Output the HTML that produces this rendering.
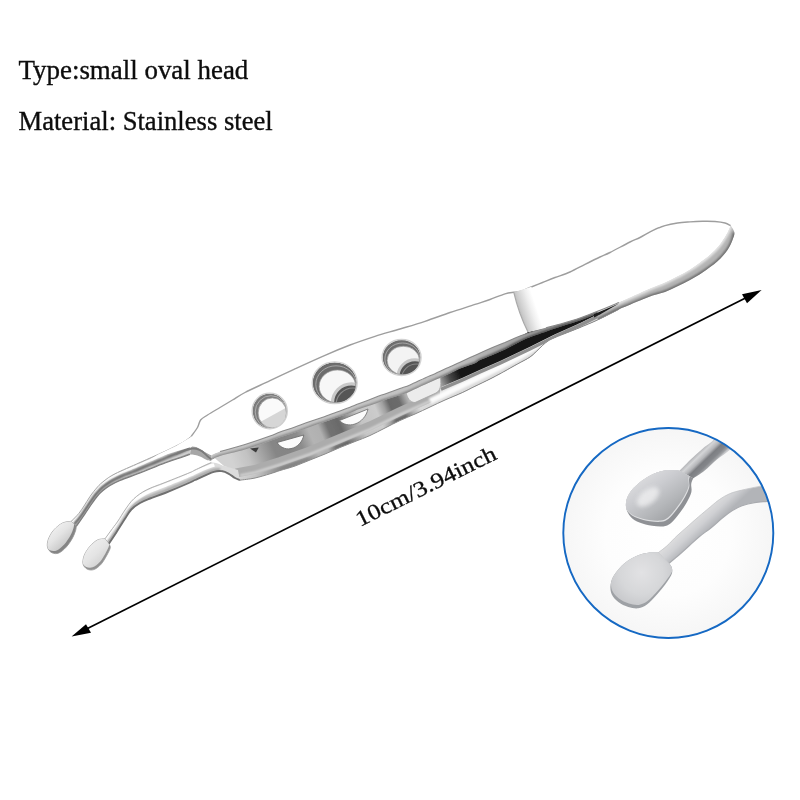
<!DOCTYPE html>
<html>
<head>
<meta charset="utf-8">
<title>Tweezers small oval head</title>
<style>
html,body{margin:0;padding:0;background:#fff;}
body{width:800px;height:800px;overflow:hidden;position:relative;font-family:"Liberation Serif",serif;}
svg{position:absolute;left:0;top:0;display:block;}
</style>
</head>
<body>
<svg width="800" height="800" viewBox="0 0 800 800">
<defs>
<linearGradient id="gLowerFace" gradientUnits="userSpaceOnUse" x1="240" y1="480" x2="620" y2="319">
  <stop offset="0" stop-color="#d2d2d2"/>
  <stop offset="0.04" stop-color="#c2c2c2"/>
  <stop offset="0.075" stop-color="#a2a2a2"/>
  <stop offset="0.105" stop-color="#868686"/>
  <stop offset="0.14" stop-color="#858585"/>
  <stop offset="0.17" stop-color="#8c8c8c"/>
  <stop offset="0.20" stop-color="#b4b4b4"/>
  <stop offset="0.225" stop-color="#b0b0b0"/>
  <stop offset="0.245" stop-color="#727272"/>
  <stop offset="0.275" stop-color="#6a6a6a"/>
  <stop offset="0.30" stop-color="#9a9a9a"/>
  <stop offset="0.325" stop-color="#c4c4c4"/>
  <stop offset="0.37" stop-color="#cccccc"/>
  <stop offset="0.39" stop-color="#a0a0a0"/>
  <stop offset="0.405" stop-color="#686868"/>
  <stop offset="0.43" stop-color="#6c6c6c"/>
  <stop offset="0.45" stop-color="#b0b0b0"/>
  <stop offset="0.47" stop-color="#dadada"/>
  <stop offset="0.53" stop-color="#d4d4d4"/>
  <stop offset="0.545" stop-color="#909090"/>
  <stop offset="0.565" stop-color="#2d2d2d"/>
  <stop offset="0.7" stop-color="#161616"/>
  <stop offset="1" stop-color="#1c1c1c"/>
</linearGradient>
<linearGradient id="gWedge" gradientUnits="userSpaceOnUse" x1="440" y1="380" x2="460" y2="371.5">
  <stop offset="0" stop-color="#9a9a9a"/>
  <stop offset="0.45" stop-color="#4a4a4a"/>
  <stop offset="1" stop-color="#131313"/>
</linearGradient>
<linearGradient id="gShoulder" gradientUnits="userSpaceOnUse" x1="518" y1="312" x2="536" y2="306">
  <stop offset="0" stop-color="#b9b9b9"/>
  <stop offset="0.3" stop-color="#d2d2d2"/>
  <stop offset="0.7" stop-color="#efefef"/>
  <stop offset="1" stop-color="#ffffff"/>
</linearGradient>
<linearGradient id="gPadBand" gradientUnits="userSpaceOnUse" x1="690" y1="269" x2="695" y2="278">
  <stop offset="0" stop-color="#e6e6e6"/>
  <stop offset="0.5" stop-color="#c2c2c2"/>
  <stop offset="1" stop-color="#8e8e8e"/>
</linearGradient>
<linearGradient id="gBandLong" gradientUnits="userSpaceOnUse" x1="211" y1="458" x2="640" y2="294">
  <stop offset="0" stop-color="#c6c6c6"/>
  <stop offset="0.35" stop-color="#c4c4c4"/>
  <stop offset="0.55" stop-color="#c2c2c2"/>
  <stop offset="0.7" stop-color="#a8a8a8"/>
  <stop offset="0.82" stop-color="#8c8c8c"/>
  <stop offset="0.93" stop-color="#8c8c8c"/>
  <stop offset="1" stop-color="#b8b8b8"/>
</linearGradient>
<linearGradient id="gBandEdge" gradientUnits="userSpaceOnUse" x1="211" y1="458" x2="640" y2="294">
  <stop offset="0" stop-color="#8a8a8a"/>
  <stop offset="0.5" stop-color="#858585"/>
  <stop offset="0.58" stop-color="#6a6a6a"/>
  <stop offset="0.7" stop-color="#4a4a4a"/>
  <stop offset="0.9" stop-color="#555555"/>
  <stop offset="1" stop-color="#9a9a9a"/>
</linearGradient>
<linearGradient id="gArmBand" gradientUnits="userSpaceOnUse" x1="400" y1="386.5" x2="402.5" y2="393">
  <stop offset="0" stop-color="#e2e2e2"/>
  <stop offset="0.5" stop-color="#bdbdbd"/>
  <stop offset="1" stop-color="#8d8d8d"/>
</linearGradient>
<linearGradient id="gRodU" gradientUnits="userSpaceOnUse" x1="138" y1="462" x2="142.2" y2="472.5">
  <stop offset="0" stop-color="#bdbdbd"/>
  <stop offset="0.18" stop-color="#fafafa"/>
  <stop offset="0.38" stop-color="#e2e2e2"/>
  <stop offset="0.55" stop-color="#8d8d8d"/>
  <stop offset="0.68" stop-color="#6f6f6f"/>
  <stop offset="0.82" stop-color="#cfcfcf"/>
  <stop offset="1" stop-color="#909090"/>
</linearGradient>
<linearGradient id="gRodL" gradientUnits="userSpaceOnUse" x1="163" y1="482.5" x2="167.5" y2="493.5">
  <stop offset="0" stop-color="#cdcdcd"/>
  <stop offset="0.22" stop-color="#fbfbfb"/>
  <stop offset="0.5" stop-color="#e6e6e6"/>
  <stop offset="0.72" stop-color="#adadad"/>
  <stop offset="1" stop-color="#8b8b8b"/>
</linearGradient>
<linearGradient id="gHeadU" gradientUnits="userSpaceOnUse" x1="52" y1="528" x2="70" y2="548">
  <stop offset="0" stop-color="#f4f4f4"/>
  <stop offset="0.5" stop-color="#e4e4e4"/>
  <stop offset="1" stop-color="#c4c4c4"/>
</linearGradient>
<linearGradient id="gHeadL" gradientUnits="userSpaceOnUse" x1="88" y1="546" x2="106" y2="566">
  <stop offset="0" stop-color="#efefef"/>
  <stop offset="0.5" stop-color="#e4e4e4"/>
  <stop offset="1" stop-color="#cfcfcf"/>
</linearGradient>
<filter id="soft" x="-2%" y="-2%" width="104%" height="104%"><feGaussianBlur stdDeviation="0.45"/></filter>
<filter id="blur05" x="-10%" y="-10%" width="120%" height="120%"><feGaussianBlur stdDeviation="0.5"/></filter>
<filter id="blur1" x="-10%" y="-10%" width="120%" height="120%"><feGaussianBlur stdDeviation="1"/></filter>
<filter id="blur2" x="-20%" y="-20%" width="140%" height="140%"><feGaussianBlur stdDeviation="2"/></filter>
<clipPath id="clipLower"><path d="M240.0,480.2 C242.5,479.8 250.0,479.1 255.0,478.0 C260.0,476.9 265.8,475.1 270.0,473.8 C274.2,472.6 275.8,471.8 280.0,470.5 C284.2,469.2 290.0,467.8 295.0,466.0 C300.0,464.2 305.0,462.0 310.0,460.0 C315.0,458.0 320.0,456.1 325.0,454.0 C330.0,451.9 335.0,449.6 340.0,447.5 C345.0,445.4 350.0,443.5 355.0,441.5 C360.0,439.5 365.0,437.8 370.0,435.5 C375.0,433.2 380.0,430.5 385.0,428.0 C390.0,425.5 395.0,422.8 400.0,420.5 C405.0,418.2 410.0,416.2 415.0,414.0 C420.0,411.8 425.0,409.3 430.0,407.0 C435.0,404.7 439.6,402.4 445.0,400.0 C450.4,397.6 457.5,394.8 462.5,392.5 C467.5,390.2 470.4,388.6 475.0,386.3 C479.6,384.1 485.8,381.1 490.0,379.0 C494.2,376.9 497.5,375.1 500.0,373.8 C502.5,372.5 502.1,372.6 505.0,371.0 C507.9,369.4 513.3,366.3 517.5,364.0 C521.7,361.7 526.9,359.1 530.0,357.0 C533.1,354.9 534.2,353.4 536.3,351.5 C538.4,349.6 540.5,347.2 542.5,345.5 C544.5,343.8 545.9,342.3 548.0,341.0 C550.1,339.7 551.8,338.9 555.0,337.5 C558.2,336.1 563.3,334.2 567.5,332.5 C571.7,330.8 575.0,329.6 580.0,327.5 C585.0,325.4 591.0,323.0 597.5,320.0 C604.0,317.0 615.2,311.2 618.8,309.4 L618.8,303.5 L597.5,311.3 L580.0,318.0 L561.3,323.8 L542.5,328.8 L528.0,332.0 L517.5,337.0 L505.0,342.4 L492.5,347.5 L477.0,354.4 L460.0,362.3 L450.0,366.8 L435.0,373.7 L425.0,377.9 L410.0,384.9 L400.0,388.5 L385.0,393.9 L375.0,397.5 L360.0,403.3 L350.0,407.3 L340.0,411.0 L325.0,416.5 L310.0,421.5 L295.0,427.0 L280.0,432.0 L270.0,436.0 L245.0,444.5 L220.0,451.5 L211.3,455.2 L224.0,466.0 L238.0,470.0 Z"/></clipPath>
<clipPath id="clipFace"><path d="M191.3,436.3 C192.3,434.8 195.9,430.2 197.5,427.5 C199.1,424.8 198.9,422.1 200.6,420.0 C202.3,417.9 204.3,417.1 207.5,415.0 C210.7,412.9 215.8,410.0 220.0,407.5 C224.2,405.0 228.3,402.5 232.5,400.0 C236.7,397.5 238.8,395.7 245.0,392.5 C251.2,389.3 261.7,384.6 270.0,380.6 C278.3,376.7 285.8,373.0 295.0,368.8 C304.2,364.6 315.8,359.3 325.0,355.3 C334.2,351.3 341.7,348.2 350.0,345.0 C358.3,341.8 366.7,339.0 375.0,336.3 C383.3,333.6 391.7,331.5 400.0,329.0 C408.3,326.5 416.7,324.1 425.0,321.3 C433.3,318.6 441.7,315.3 450.0,312.5 C458.3,309.7 468.3,306.6 475.0,304.4 C481.7,302.2 485.0,301.3 490.0,299.5 C495.0,297.7 501.0,295.0 505.0,293.8 C509.0,292.6 512.3,292.6 513.8,292.3 C515.0,292.1 518.6,292.0 521.3,291.2 C524.0,290.4 526.5,288.9 530.0,287.5 C533.5,286.1 538.3,284.2 542.5,282.5 C546.7,280.8 550.4,279.2 555.0,277.5 C559.6,275.8 565.0,274.2 570.0,272.0 C575.0,269.8 580.0,266.9 585.0,264.4 C590.0,261.9 595.8,259.0 600.0,257.0 C604.2,255.0 605.0,255.0 610.0,252.5 C615.0,250.0 625.0,244.5 630.0,242.0 C635.0,239.5 636.2,239.4 640.0,237.5 C643.8,235.6 648.3,232.6 652.5,230.6 C656.7,228.6 660.8,226.9 665.0,225.6 C669.2,224.3 673.3,223.6 677.5,223.0 C681.7,222.4 685.8,222.2 690.0,221.9 C694.2,221.6 698.3,221.4 702.5,221.3 C706.7,221.2 711.2,221.2 715.0,221.5 C718.8,221.8 722.4,222.3 725.0,223.0 C727.6,223.7 729.7,225.2 730.6,225.6 C730.1,226.8 729.0,229.7 727.5,232.5 C726.0,235.3 723.4,239.6 721.3,242.5 C719.2,245.4 717.7,247.3 715.0,250.0 C712.3,252.7 709.2,255.6 705.0,258.8 C700.8,262.0 694.6,266.5 690.0,269.4 C685.4,272.3 681.7,274.1 677.5,276.3 C673.3,278.5 669.2,280.6 665.0,282.5 C660.8,284.4 656.7,285.8 652.5,287.5 C648.3,289.2 645.6,290.5 640.0,293.0 C634.4,295.5 625.9,299.4 618.8,302.5 C611.7,305.6 604.0,308.7 597.5,311.3 C591.0,313.9 586.0,315.9 580.0,318.0 C574.0,320.1 567.5,322.0 561.3,323.8 C555.0,325.6 548.0,327.4 542.5,328.8 C537.0,330.2 530.4,331.5 528.0,332.0 C526.2,333.9 521.3,335.5 517.5,337.0 C513.7,338.6 509.2,340.6 505.0,342.4 C500.8,344.1 497.2,345.5 492.5,347.5 C487.8,349.5 482.4,351.9 477.0,354.4 C471.6,356.9 464.5,360.2 460.0,362.3 C455.5,364.4 454.2,364.9 450.0,366.8 C445.8,368.6 439.2,371.8 435.0,373.7 C430.8,375.5 429.2,376.1 425.0,377.9 C420.8,379.8 414.2,383.1 410.0,384.9 C405.8,386.6 404.2,387.0 400.0,388.5 C395.8,390.0 389.2,392.4 385.0,393.9 C380.8,395.4 379.2,395.9 375.0,397.5 C370.8,399.1 364.2,401.7 360.0,403.3 C355.8,404.9 353.3,406.0 350.0,407.3 C346.7,408.6 344.2,409.5 340.0,411.0 C335.8,412.5 330.0,414.8 325.0,416.5 C320.0,418.2 315.0,419.8 310.0,421.5 C305.0,423.2 300.0,425.2 295.0,427.0 C290.0,428.8 284.2,430.5 280.0,432.0 C275.8,433.5 275.8,433.9 270.0,436.0 C264.2,438.1 253.3,441.9 245.0,444.5 C236.7,447.1 225.6,449.7 220.0,451.5 C214.4,453.3 212.8,454.6 211.3,455.2 C210.2,454.7 207.2,453.3 205.0,452.0 C202.8,450.7 200.3,448.4 198.0,447.5 C195.7,446.6 192.4,446.7 191.3,446.5 Z"/></clipPath>
</defs>

<defs>
<radialGradient id="gInsetBg" gradientUnits="userSpaceOnUse" cx="668" cy="533" r="105">
  <stop offset="0" stop-color="#ffffff"/>
  <stop offset="0.6" stop-color="#fdfdfd"/>
  <stop offset="1" stop-color="#f6f6f6"/>
</radialGradient>
<linearGradient id="gInRod1" gradientUnits="userSpaceOnUse" x1="698" y1="452.5" x2="711" y2="466">
  <stop offset="0" stop-color="#b4b5b8"/>
  <stop offset="0.18" stop-color="#d4d5d7"/>
  <stop offset="0.40" stop-color="#b4b5b8"/>
  <stop offset="0.56" stop-color="#7c7e82"/>
  <stop offset="0.78" stop-color="#84868a"/>
  <stop offset="0.92" stop-color="#a0a2a5"/>
  <stop offset="1" stop-color="#c8c9cc"/>
</linearGradient>
<linearGradient id="gInHead1" gradientUnits="userSpaceOnUse" x1="640" y1="478" x2="672" y2="524">
  <stop offset="0" stop-color="#e2e2e4"/>
  <stop offset="0.4" stop-color="#cbccd0"/>
  <stop offset="0.75" stop-color="#b4b6b9"/>
  <stop offset="1" stop-color="#a2a4a7"/>
</linearGradient>
<linearGradient id="gInRod2" gradientUnits="userSpaceOnUse" x1="692" y1="521" x2="704" y2="534">
  <stop offset="0" stop-color="#dededf"/>
  <stop offset="0.5" stop-color="#cfd0d3"/>
  <stop offset="1" stop-color="#b2b4b8"/>
</linearGradient>
<radialGradient id="gInHead2" gradientUnits="userSpaceOnUse" cx="641" cy="576" r="36">
  <stop offset="0" stop-color="#e2e2e4"/>
  <stop offset="0.6" stop-color="#d6d7d9"/>
  <stop offset="1" stop-color="#c6c7ca"/>
</radialGradient>
</defs>

<rect x="0" y="0" width="800" height="800" fill="#ffffff"/>
<g font-family="Liberation Serif, serif" fill="#0d0d0d" stroke="#0d0d0d" stroke-width="0.35" style="filter:grayscale(1)">
<text id="t1" x="18.5" y="79.3" font-size="27" textLength="229.8" lengthAdjust="spacingAndGlyphs">Type:small oval head</text>
<text id="t2" x="18.5" y="130" font-size="27" textLength="254.2" lengthAdjust="spacingAndGlyphs">Material: Stainless steel</text>
</g>

<g id="arrow">
<line x1="82" y1="631.2" x2="752" y2="294.8" stroke="#000" stroke-width="1.7"/>
<polygon points="761.6,290 742,294.2 747,303.2" fill="#000"/>
<polygon points="71.6,636.4 86,624.2 91,632.8" fill="#000"/>
<g style="filter:grayscale(1)"><text id="t3" transform="translate(360,527) rotate(-26.4)" font-family="Liberation Serif, serif" font-size="22" fill="#0d0d0d" stroke="#0d0d0d" stroke-width="0.3" textLength="154" lengthAdjust="spacingAndGlyphs">10cm/3.94inch</text></g>
</g>

<g id="tweezers" filter="url(#soft)">
<!-- ===== LOWER ARM (behind) ===== -->
<g id="lowerArm">
<clipPath id="clipRod2"><path d="M224.0,466.0 L224.0,466.0 C221.9,465.4 216.1,461.8 211.3,462.5 C206.5,463.2 198.6,468.3 195.0,470.0 C191.4,471.7 195.0,470.4 190.0,472.5 C185.0,474.6 172.3,479.6 165.0,482.5 C157.7,485.4 151.5,487.3 146.3,490.0 C141.1,492.7 137.4,495.5 133.8,498.8 C130.2,502.1 127.6,506.3 125.0,510.0 C122.4,513.7 120.1,517.9 118.0,521.0 C115.9,524.1 114.7,525.5 112.5,528.5 C110.3,531.5 106.2,537.1 105.0,538.8 L105.0,538.8 C105.6,539.6 108.2,543.0 108.8,543.8 L108.8,543.8 C110.0,541.9 113.6,536.7 116.3,532.5 C119.0,528.3 122.5,522.6 125.0,518.8 C127.5,515.0 128.8,512.1 131.3,509.5 C133.8,506.9 136.9,504.8 140.0,503.0 C143.1,501.2 145.8,500.2 150.0,498.5 C154.2,496.8 158.3,495.7 165.0,493.0 C171.7,490.3 185.0,484.7 190.0,482.5 C195.0,480.3 191.0,481.8 195.0,480.0 C199.0,478.2 209.2,473.3 213.8,471.9 C218.4,470.4 220.0,471.0 222.5,471.3 C225.0,471.6 226.7,472.7 228.8,473.8 C230.9,474.9 233.1,476.9 235.0,478.0 C236.9,479.1 239.2,479.8 240.0,480.2 L240.0,480.2 C239.7,478.5 240.7,472.4 238.0,470.0 C235.3,467.6 226.3,466.7 224.0,466.0 Z"/></clipPath>
<path d="M224.0,466.0 L224.0,466.0 C221.9,465.4 216.1,461.8 211.3,462.5 C206.5,463.2 198.6,468.3 195.0,470.0 C191.4,471.7 195.0,470.4 190.0,472.5 C185.0,474.6 172.3,479.6 165.0,482.5 C157.7,485.4 151.5,487.3 146.3,490.0 C141.1,492.7 137.4,495.5 133.8,498.8 C130.2,502.1 127.6,506.3 125.0,510.0 C122.4,513.7 120.1,517.9 118.0,521.0 C115.9,524.1 114.7,525.5 112.5,528.5 C110.3,531.5 106.2,537.1 105.0,538.8 L105.0,538.8 C105.6,539.6 108.2,543.0 108.8,543.8 L108.8,543.8 C110.0,541.9 113.6,536.7 116.3,532.5 C119.0,528.3 122.5,522.6 125.0,518.8 C127.5,515.0 128.8,512.1 131.3,509.5 C133.8,506.9 136.9,504.8 140.0,503.0 C143.1,501.2 145.8,500.2 150.0,498.5 C154.2,496.8 158.3,495.7 165.0,493.0 C171.7,490.3 185.0,484.7 190.0,482.5 C195.0,480.3 191.0,481.8 195.0,480.0 C199.0,478.2 209.2,473.3 213.8,471.9 C218.4,470.4 220.0,471.0 222.5,471.3 C225.0,471.6 226.7,472.7 228.8,473.8 C230.9,474.9 233.1,476.9 235.0,478.0 C236.9,479.1 239.2,479.8 240.0,480.2 L240.0,480.2 C239.7,478.5 240.7,472.4 238.0,470.0 C235.3,467.6 226.3,466.7 224.0,466.0 Z" fill="#dcdcdc"/>
<g clip-path="url(#clipRod2)">
<path d="M214.3,464.9 C213.4,465.2 210.6,466.0 208.8,466.7 C206.9,467.3 205.1,468.2 203.3,468.9 C201.5,469.7 199.7,470.6 197.9,471.4 C196.1,472.2 194.3,473.2 192.5,474.0 C190.7,474.8 188.9,475.5 187.0,476.3 C185.2,477.1 183.4,477.8 181.6,478.6 C179.7,479.4 177.9,480.1 176.1,480.8 C174.2,481.6 172.4,482.3 170.6,483.1 C168.7,483.8 166.9,484.6 165.0,485.3 C163.2,486.0 161.3,486.7 159.5,487.4 C157.6,488.1 155.8,488.8 153.9,489.5 C152.1,490.3 150.2,491.0 148.4,491.9 C146.7,492.7 144.9,493.6 143.2,494.6 C141.5,495.6 139.8,496.6 138.2,497.8 C136.6,498.9 135.1,500.2 133.6,501.5 C132.2,502.9 130.9,504.4 129.6,505.9 C128.4,507.4 127.2,509.0 126.1,510.6 C125.0,512.3 123.9,514.0 122.9,515.6 C121.8,517.3 120.8,519.0 119.7,520.7 C118.6,522.4 117.5,524.0 116.4,525.6 C115.2,527.2 114.1,528.8 112.9,530.5 C111.8,532.1 110.6,533.7 109.5,535.3 C108.3,536.9 106.6,539.3 106.0,540.1" fill="none" stroke="#ffffff" stroke-width="3.6" filter="url(#blur05)"/>
<path d="M220.3,469.5 C219.3,469.6 216.3,469.6 214.3,470.0 C212.4,470.4 210.5,471.2 208.6,472.0 C206.7,472.7 204.8,473.5 203.0,474.4 C201.1,475.2 199.3,476.1 197.5,476.9 C195.6,477.8 193.8,478.6 191.9,479.4 C190.1,480.2 188.3,481.1 186.4,482.0 C184.6,482.8 182.7,483.5 180.8,484.3 C179.0,485.1 177.1,485.9 175.2,486.7 C173.4,487.5 171.5,488.2 169.6,489.0 C167.7,489.8 165.9,490.5 164.0,491.3 C162.1,492.0 160.2,492.7 158.3,493.4 C156.4,494.2 154.5,494.8 152.6,495.6 C150.7,496.3 148.9,497.1 147.0,497.9 C145.2,498.7 143.3,499.5 141.6,500.5 C139.8,501.5 138.1,502.5 136.4,503.7 C134.8,504.9 133.2,506.1 131.8,507.6 C130.4,509.0 129.1,510.6 128.0,512.3 C126.8,513.9 125.8,515.7 124.7,517.4 C123.7,519.1 122.6,520.8 121.5,522.6 C120.4,524.3 119.3,526.0 118.2,527.7 C117.1,529.4 116.0,531.1 114.9,532.7 C113.7,534.4 112.6,536.1 111.5,537.8 C110.3,539.5 108.6,542.0 108.0,542.8" fill="none" stroke="#a6a6a6" stroke-width="3" filter="url(#blur1)"/>
</g>
<path d="M211.3,462.5 C208.6,463.8 198.6,468.3 195.0,470.0 C191.4,471.7 195.0,470.4 190.0,472.5 C185.0,474.6 172.3,479.6 165.0,482.5 C157.7,485.4 151.5,487.3 146.3,490.0 C141.1,492.7 137.4,495.5 133.8,498.8 C130.2,502.1 127.6,506.3 125.0,510.0 C122.4,513.7 120.1,517.9 118.0,521.0 C115.9,524.1 114.7,525.5 112.5,528.5 C110.3,531.5 106.2,537.1 105.0,538.8" fill="none" stroke="#a9a9a9" stroke-width="0.9" filter="url(#blur05)"/>
<path d="M108.8,543.8 C110.0,541.9 113.6,536.7 116.3,532.5 C119.0,528.3 122.5,522.6 125.0,518.8 C127.5,515.0 128.8,512.1 131.3,509.5 C133.8,506.9 136.9,504.8 140.0,503.0 C143.1,501.2 145.8,500.2 150.0,498.5 C154.2,496.8 158.3,495.7 165.0,493.0 C171.7,490.3 185.0,484.7 190.0,482.5 C195.0,480.3 191.0,481.8 195.0,480.0 C199.0,478.2 209.2,473.3 213.8,471.9 C218.4,470.4 220.0,471.0 222.5,471.3 C225.0,471.6 226.7,472.7 228.8,473.8 C230.9,474.9 233.1,476.9 235.0,478.0 C236.9,479.1 239.2,479.8 240.0,480.2" fill="none" stroke="#6f6f6f" stroke-width="1.9" filter="url(#blur05)"/>
<clipPath id="clipHL"><path d="M105.0,538.8 C103.8,539.0 100.0,538.8 97.5,540.0 C95.0,541.2 92.2,543.8 90.0,546.3 C87.8,548.8 85.6,552.1 84.4,555.0 C83.2,557.9 82.6,561.5 83.0,563.8 C83.4,566.1 85.2,568.0 87.0,569.0 C88.8,570.0 91.4,570.4 93.8,569.6 C96.2,568.8 99.0,566.6 101.3,564.0 C103.6,561.4 106.0,556.8 107.5,554.0 C109.0,551.2 110.1,549.2 110.3,547.5 C110.5,545.8 109.0,544.4 108.8,543.8 Z"/></clipPath>
<path d="M105.0,538.8 C103.8,539.0 100.0,538.8 97.5,540.0 C95.0,541.2 92.2,543.8 90.0,546.3 C87.8,548.8 85.6,552.1 84.4,555.0 C83.2,557.9 82.6,561.5 83.0,563.8 C83.4,566.1 85.2,568.0 87.0,569.0 C88.8,570.0 91.4,570.4 93.8,569.6 C96.2,568.8 99.0,566.6 101.3,564.0 C103.6,561.4 106.0,556.8 107.5,554.0 C109.0,551.2 110.1,549.2 110.3,547.5 C110.5,545.8 109.0,544.4 108.8,543.8 Z" fill="#929292" stroke="#9a9a9a" stroke-width="0.8"/>
<g clip-path="url(#clipHL)"><path d="M105.0,538.8 C103.8,539.0 100.0,538.8 97.5,540.0 C95.0,541.2 92.2,543.8 90.0,546.3 C87.8,548.8 85.6,552.1 84.4,555.0 C83.2,557.9 82.6,561.5 83.0,563.8 C83.4,566.1 85.2,568.0 87.0,569.0 C88.8,570.0 91.4,570.4 93.8,569.6 C96.2,568.8 99.0,566.6 101.3,564.0 C103.6,561.4 106.0,556.8 107.5,554.0 C109.0,551.2 110.1,549.2 110.3,547.5 C110.5,545.8 109.0,544.4 108.8,543.8 Z" fill="url(#gHeadL)" transform="translate(-1.2,-2.3)" filter="url(#blur05)"/></g>
<path id="lowerBody" d="M240.0,480.2 C242.5,479.8 250.0,479.1 255.0,478.0 C260.0,476.9 265.8,475.1 270.0,473.8 C274.2,472.6 275.8,471.8 280.0,470.5 C284.2,469.2 290.0,467.8 295.0,466.0 C300.0,464.2 305.0,462.0 310.0,460.0 C315.0,458.0 320.0,456.1 325.0,454.0 C330.0,451.9 335.0,449.6 340.0,447.5 C345.0,445.4 350.0,443.5 355.0,441.5 C360.0,439.5 365.0,437.8 370.0,435.5 C375.0,433.2 380.0,430.5 385.0,428.0 C390.0,425.5 395.0,422.8 400.0,420.5 C405.0,418.2 410.0,416.2 415.0,414.0 C420.0,411.8 425.0,409.3 430.0,407.0 C435.0,404.7 439.6,402.4 445.0,400.0 C450.4,397.6 457.5,394.8 462.5,392.5 C467.5,390.2 470.4,388.6 475.0,386.3 C479.6,384.1 485.8,381.1 490.0,379.0 C494.2,376.9 497.5,375.1 500.0,373.8 C502.5,372.5 502.1,372.6 505.0,371.0 C507.9,369.4 513.3,366.3 517.5,364.0 C521.7,361.7 526.9,359.1 530.0,357.0 C533.1,354.9 534.2,353.4 536.3,351.5 C538.4,349.6 540.5,347.2 542.5,345.5 C544.5,343.8 545.9,342.3 548.0,341.0 C550.1,339.7 551.8,338.9 555.0,337.5 C558.2,336.1 563.3,334.2 567.5,332.5 C571.7,330.8 575.0,329.6 580.0,327.5 C585.0,325.4 591.0,323.0 597.5,320.0 C604.0,317.0 615.2,311.2 618.8,309.4 L618.8,303.5 L597.5,311.3 L580.0,318.0 L561.3,323.8 L542.5,328.8 L528.0,332.0 L517.5,337.0 L505.0,342.4 L492.5,347.5 L477.0,354.4 L460.0,362.3 L450.0,366.8 L435.0,373.7 L425.0,377.9 L410.0,384.9 L400.0,388.5 L385.0,393.9 L375.0,397.5 L360.0,403.3 L350.0,407.3 L340.0,411.0 L325.0,416.5 L310.0,421.5 L295.0,427.0 L280.0,432.0 L270.0,436.0 L245.0,444.5 L220.0,451.5 L211.3,455.2 L224.0,466.0 L238.0,470.0 Z" fill="url(#gLowerFace)"/>
<g clip-path="url(#clipLower)">
<!-- rim band along lower-arm bottom (left part) -->
<path d="M236,473 L255,469.5 L280,461.5 L310,451 L340,438.5 L370,426 L400,411.5 L430,398 L446,390.5" fill="none" stroke="#acacac" stroke-width="9"/>
<!-- right part: wide light band -->
<path d="M440,383 L462,374.3 L480,366 L500,357.5 L530,343.8 L555,332.5 L580,322.5 L600,313 L618.8,304 L640,296 L640,310 L600,326 L560,342 L530,362 L500,380 L440,408 Z" fill="#dadada"/>
<path d="M240,475.5 L255,472.5 L280,464.8 L310,454.3 L340,441.8 L370,429.5 L400,414.8 L430,401.3" fill="none" stroke="#d9d9d9" stroke-width="2.2" filter="url(#blur1)"/>
<path d="M430,401.3 L462,385.5 L480,377 L500,367 L517,358.5 L530,350.5 L540,343.5 L555,335.3" fill="none" stroke="#fbfbfb" stroke-width="6" filter="url(#blur1)"/>
<!-- gray strip under black -->
<path d="M441.0,389.2 L445.0,387.5 L462.0,380.2 L480.0,372.0 L500.0,363.2 L530.0,349.0 L555.0,336.5 L580.0,325.2 L600.0,315.2 L618.8,306.2" fill="none" stroke="#8f8f8f" stroke-width="3.2" filter="url(#blur05)"/>
<!-- black wedge between arms -->
<path d="M440,372 L441.0,387.0 L445.0,385.3 L462.0,378.0 L480.0,369.8 L500.0,361.0 L530.0,346.8 L555.0,334.3 L580.0,323.0 L600.0,313.0 L618.8,304.0 L620,296 L520,330 Z" fill="url(#gWedge)"/>
</g>
<!-- lower arm holes seen through (white) -->
<path d="M277,442.5 C280,447 285,449.8 291,448.6 C297.5,447.3 302.5,442 303.8,435 Z" fill="#fbfbfb" stroke="#6e6e6e" stroke-width="0.9"/>
<path d="M339.5,420.5 C343,424.5 349,426 355,424 C361.5,421.8 366.5,416 368,409 Z" fill="#fbfbfb" stroke="#777" stroke-width="0.9"/>
<path d="M406,392 C407,398 410,402.5 415,402.5 L436,393 C440,391 441.5,386 440.5,378 L430,376 Z" fill="#ececec" stroke="#a5a5a5" stroke-width="0.8" filter="url(#blur05)"/>
<!-- tiny dark triangle -->
<path d="M250,448.5 L258.8,447.5 L256,452.5 Z" fill="#3a3a3a"/>

<path d="M240.0,480.2 C242.5,479.8 250.0,479.1 255.0,478.0 C260.0,476.9 265.8,475.1 270.0,473.8 C274.2,472.6 275.8,471.8 280.0,470.5 C284.2,469.2 290.0,467.8 295.0,466.0 C300.0,464.2 305.0,462.0 310.0,460.0 C315.0,458.0 320.0,456.1 325.0,454.0 C330.0,451.9 335.0,449.6 340.0,447.5 C345.0,445.4 350.0,443.5 355.0,441.5 C360.0,439.5 365.0,437.8 370.0,435.5 C375.0,433.2 380.0,430.5 385.0,428.0 C390.0,425.5 395.0,422.8 400.0,420.5 C405.0,418.2 410.0,416.2 415.0,414.0 C420.0,411.8 425.0,409.3 430.0,407.0 C435.0,404.7 439.6,402.4 445.0,400.0 C450.4,397.6 457.5,394.8 462.5,392.5 C467.5,390.2 470.4,388.6 475.0,386.3 C479.6,384.1 485.8,381.1 490.0,379.0 C494.2,376.9 497.5,375.1 500.0,373.8 C502.5,372.5 502.1,372.6 505.0,371.0 C507.9,369.4 513.3,366.3 517.5,364.0 C521.7,361.7 526.9,359.1 530.0,357.0 C533.1,354.9 534.2,353.4 536.3,351.5 C538.4,349.6 540.5,347.2 542.5,345.5 C544.5,343.8 545.9,342.3 548.0,341.0 C550.1,339.7 551.8,338.9 555.0,337.5 C558.2,336.1 563.3,334.2 567.5,332.5 C571.7,330.8 575.0,329.6 580.0,327.5 C585.0,325.4 591.0,323.0 597.5,320.0 C604.0,317.0 615.2,311.2 618.8,309.4" fill="none" stroke="#8a8a8a" stroke-width="1"/>
</g>

<!-- ===== UPPER ARM (front) ===== -->
<g id="upperArm">
<clipPath id="clipRod1"><path d="M191.3,436.3 L191.3,436.3 C189.8,437.3 186.9,440.0 182.5,442.5 C178.1,445.0 172.1,448.0 165.0,451.3 C157.9,454.6 148.3,458.8 140.0,462.5 C131.7,466.2 121.0,470.7 115.0,473.8 C109.0,476.9 106.9,478.8 104.0,481.0 C101.1,483.2 99.8,484.4 97.5,487.0 C95.2,489.6 92.2,493.3 90.0,496.5 C87.8,499.7 85.9,503.2 84.0,506.0 C82.1,508.8 80.9,510.9 78.8,513.5 C76.7,516.0 72.5,520.0 71.3,521.3 L71.3,521.3 C72.1,522.1 75.5,525.5 76.3,526.3 L76.3,526.3 C77.8,524.2 82.4,517.6 85.0,513.8 C87.6,510.0 89.9,506.5 92.0,503.5 C94.1,500.5 95.7,498.2 97.5,496.0 C99.3,493.8 100.9,492.2 103.0,490.5 C105.1,488.8 107.2,487.2 110.0,485.5 C112.8,483.8 115.0,482.6 120.0,480.5 C125.0,478.4 132.5,475.9 140.0,473.0 C147.5,470.1 158.0,465.6 165.0,463.0 C172.0,460.4 177.8,458.6 182.0,457.2 C186.2,455.8 188.7,454.9 190.0,454.5 L190.0,454.5 C190.2,451.5 191.1,439.3 191.3,436.3 Z"/></clipPath>
<path d="M191.3,436.3 L191.3,436.3 C189.8,437.3 186.9,440.0 182.5,442.5 C178.1,445.0 172.1,448.0 165.0,451.3 C157.9,454.6 148.3,458.8 140.0,462.5 C131.7,466.2 121.0,470.7 115.0,473.8 C109.0,476.9 106.9,478.8 104.0,481.0 C101.1,483.2 99.8,484.4 97.5,487.0 C95.2,489.6 92.2,493.3 90.0,496.5 C87.8,499.7 85.9,503.2 84.0,506.0 C82.1,508.8 80.9,510.9 78.8,513.5 C76.7,516.0 72.5,520.0 71.3,521.3 L71.3,521.3 C72.1,522.1 75.5,525.5 76.3,526.3 L76.3,526.3 C77.8,524.2 82.4,517.6 85.0,513.8 C87.6,510.0 89.9,506.5 92.0,503.5 C94.1,500.5 95.7,498.2 97.5,496.0 C99.3,493.8 100.9,492.2 103.0,490.5 C105.1,488.8 107.2,487.2 110.0,485.5 C112.8,483.8 115.0,482.6 120.0,480.5 C125.0,478.4 132.5,475.9 140.0,473.0 C147.5,470.1 158.0,465.6 165.0,463.0 C172.0,460.4 177.8,458.6 182.0,457.2 C186.2,455.8 188.7,454.9 190.0,454.5 L190.0,454.5 C190.2,451.5 191.1,439.3 191.3,436.3 Z" fill="#d2d2d2"/>
<g clip-path="url(#clipRod1)">
<path d="M191.0,440.3 C190.1,440.9 187.5,442.7 185.7,443.8 C183.8,444.9 182.0,445.9 180.0,446.9 C178.1,447.8 176.2,448.7 174.2,449.6 C172.3,450.5 170.4,451.4 168.4,452.3 C166.5,453.2 164.5,454.1 162.5,455.0 C160.6,455.8 158.6,456.7 156.7,457.6 C154.7,458.4 152.7,459.3 150.8,460.1 C148.8,461.0 146.8,461.8 144.8,462.7 C142.9,463.6 140.9,464.4 138.9,465.3 C137.0,466.1 135.0,467.0 133.0,467.8 C131.1,468.6 129.1,469.5 127.1,470.3 C125.1,471.2 123.2,472.0 121.2,472.9 C119.2,473.7 117.3,474.6 115.4,475.6 C113.5,476.6 111.6,477.6 109.8,478.7 C108.0,479.9 106.2,481.2 104.5,482.5 C102.8,483.8 101.2,485.2 99.6,486.7 C98.1,488.2 96.7,489.8 95.4,491.5 C94.0,493.1 92.7,494.9 91.5,496.6 C90.2,498.3 89.0,500.1 87.9,501.9 C86.7,503.7 85.6,505.6 84.4,507.4 C83.3,509.2 82.1,511.0 80.9,512.7 C79.6,514.5 78.2,516.1 76.8,517.7 C75.3,519.3 73.1,521.6 72.4,522.4" fill="none" stroke="#ffffff" stroke-width="2.6" filter="url(#blur05)"/>
<path d="M190.5,447.2 C189.6,447.7 186.9,449.1 185.0,450.0 C183.1,450.8 181.2,451.7 179.3,452.5 C177.4,453.3 175.5,454.0 173.5,454.8 C171.6,455.6 169.7,456.4 167.7,457.1 C165.8,457.9 163.9,458.7 162.0,459.6 C160.1,460.4 158.1,461.2 156.2,462.0 C154.3,462.8 152.4,463.6 150.5,464.4 C148.5,465.2 146.6,466.0 144.7,466.8 C142.8,467.6 140.9,468.5 138.9,469.2 C137.0,470.0 135.1,470.8 133.1,471.6 C131.2,472.3 129.3,473.1 127.3,473.9 C125.4,474.6 123.4,475.4 121.5,476.2 C119.6,477.0 117.7,477.8 115.8,478.8 C114.0,479.7 112.1,480.7 110.3,481.8 C108.6,482.9 106.8,484.0 105.2,485.3 C103.5,486.5 101.9,487.9 100.4,489.3 C98.9,490.8 97.5,492.3 96.2,493.9 C94.9,495.5 93.7,497.2 92.4,498.9 C91.2,500.6 90.1,502.4 88.9,504.1 C87.8,505.8 86.7,507.6 85.5,509.3 C84.4,511.1 83.2,512.8 82.0,514.5 C80.8,516.2 79.5,517.8 78.2,519.5 C76.9,521.1 75.0,523.5 74.3,524.3" fill="none" stroke="#5c5c5c" stroke-width="2.6" filter="url(#blur1)"/>
<path d="M190.0,454.0 C189.1,454.3 186.2,455.3 184.3,455.9 C182.4,456.6 180.5,457.3 178.6,457.9 C176.7,458.6 174.7,459.2 172.8,459.8 C170.9,460.5 169.0,461.2 167.1,461.9 C165.2,462.6 163.3,463.3 161.4,464.0 C159.6,464.8 157.7,465.5 155.8,466.3 C153.9,467.1 152.1,467.8 150.2,468.6 C148.3,469.3 146.4,470.1 144.6,470.9 C142.7,471.6 140.8,472.4 138.9,473.1 C137.0,473.8 135.1,474.5 133.2,475.2 C131.3,475.9 129.4,476.6 127.5,477.3 C125.6,478.0 123.7,478.7 121.9,479.5 C120.0,480.2 118.1,481.0 116.3,481.9 C114.5,482.7 112.7,483.7 110.9,484.7 C109.2,485.7 107.4,486.8 105.8,488.0 C104.2,489.2 102.6,490.5 101.1,491.9 C99.7,493.3 98.3,494.8 97.0,496.3 C95.7,497.9 94.6,499.5 93.4,501.2 C92.2,502.8 91.1,504.5 90.0,506.2 C88.8,507.9 87.7,509.5 86.6,511.2 C85.4,512.9 84.3,514.6 83.1,516.2 C82.0,517.9 80.8,519.5 79.7,521.2 C78.5,522.8 76.7,525.3 76.1,526.1" fill="none" stroke="#9a9a9a" stroke-width="1.6" filter="url(#blur05)"/>
</g>
<path d="M191.3,436.3 C189.8,437.3 186.9,440.0 182.5,442.5 C178.1,445.0 172.1,448.0 165.0,451.3 C157.9,454.6 148.3,458.8 140.0,462.5 C131.7,466.2 121.0,470.7 115.0,473.8 C109.0,476.9 106.9,478.8 104.0,481.0 C101.1,483.2 99.8,484.4 97.5,487.0 C95.2,489.6 92.2,493.3 90.0,496.5 C87.8,499.7 85.9,503.2 84.0,506.0 C82.1,508.8 80.9,510.9 78.8,513.5 C76.7,516.0 72.5,520.0 71.3,521.3" fill="none" stroke="#a8a8a8" stroke-width="1" filter="url(#blur05)"/>
<path d="M76.3,526.3 C77.8,524.2 82.4,517.6 85.0,513.8 C87.6,510.0 89.9,506.5 92.0,503.5 C94.1,500.5 95.7,498.2 97.5,496.0 C99.3,493.8 100.9,492.2 103.0,490.5 C105.1,488.8 107.2,487.2 110.0,485.5 C112.8,483.8 115.0,482.6 120.0,480.5 C125.0,478.4 132.5,475.9 140.0,473.0 C147.5,470.1 158.0,465.6 165.0,463.0 C172.0,460.4 177.8,458.6 182.0,457.2 C186.2,455.8 188.7,454.9 190.0,454.5" fill="none" stroke="#7d7d7d" stroke-width="1.2" filter="url(#blur05)"/>
<clipPath id="clipHU"><path d="M71.3,521.3 C69.8,521.6 65.4,521.6 62.5,523.1 C59.6,524.6 56.2,527.3 53.8,530.0 C51.4,532.7 49.3,536.6 48.3,539.5 C47.3,542.4 47.0,545.3 47.6,547.5 C48.2,549.7 50.1,551.9 52.0,552.8 C53.9,553.7 56.4,554.0 58.8,553.0 C61.2,552.0 64.0,549.5 66.3,547.0 C68.6,544.5 71.0,540.8 72.5,538.0 C74.0,535.2 75.0,532.5 75.6,530.5 C76.2,528.5 76.2,527.0 76.3,526.3 Z"/></clipPath>
<path d="M71.3,521.3 C69.8,521.6 65.4,521.6 62.5,523.1 C59.6,524.6 56.2,527.3 53.8,530.0 C51.4,532.7 49.3,536.6 48.3,539.5 C47.3,542.4 47.0,545.3 47.6,547.5 C48.2,549.7 50.1,551.9 52.0,552.8 C53.9,553.7 56.4,554.0 58.8,553.0 C61.2,552.0 64.0,549.5 66.3,547.0 C68.6,544.5 71.0,540.8 72.5,538.0 C74.0,535.2 75.0,532.5 75.6,530.5 C76.2,528.5 76.2,527.0 76.3,526.3 Z" fill="#858585" stroke="#939393" stroke-width="0.8"/>
<g clip-path="url(#clipHU)"><path d="M71.3,521.3 C69.8,521.6 65.4,521.6 62.5,523.1 C59.6,524.6 56.2,527.3 53.8,530.0 C51.4,532.7 49.3,536.6 48.3,539.5 C47.3,542.4 47.0,545.3 47.6,547.5 C48.2,549.7 50.1,551.9 52.0,552.8 C53.9,553.7 56.4,554.0 58.8,553.0 C61.2,552.0 64.0,549.5 66.3,547.0 C68.6,544.5 71.0,540.8 72.5,538.0 C74.0,535.2 75.0,532.5 75.6,530.5 C76.2,528.5 76.2,527.0 76.3,526.3 Z" fill="url(#gHeadU)" transform="translate(-2.1,-2.6)" filter="url(#blur05)"/></g>
<clipPath id="clipBand"><path d="M622.0,301.0 C621.5,301.2 622.9,300.8 618.8,302.5 C614.7,304.2 604.0,308.7 597.5,311.3 C591.0,313.9 586.0,315.9 580.0,318.0 C574.0,320.1 567.5,322.0 561.3,323.8 C555.0,325.6 548.0,327.2 542.5,328.8 C537.0,330.4 532.2,331.9 528.0,333.3 C523.8,334.6 521.3,335.5 517.5,337.0 C513.7,338.6 509.2,340.6 505.0,342.4 C500.8,344.1 497.2,345.5 492.5,347.5 C487.8,349.5 482.4,351.9 477.0,354.4 C471.6,356.9 464.5,360.2 460.0,362.3 C455.5,364.4 454.2,364.9 450.0,366.8 C445.8,368.6 439.2,371.8 435.0,373.7 C430.8,375.5 429.2,376.1 425.0,377.9 C420.8,379.8 414.2,383.1 410.0,384.9 C405.8,386.6 404.2,387.0 400.0,388.5 C395.8,390.0 389.2,392.4 385.0,393.9 C380.8,395.4 379.2,395.9 375.0,397.5 C370.8,399.1 364.2,401.7 360.0,403.3 C355.8,404.9 353.3,406.0 350.0,407.3 C346.7,408.6 344.2,409.5 340.0,411.0 C335.8,412.5 330.0,414.8 325.0,416.5 C320.0,418.2 315.0,419.8 310.0,421.5 C305.0,423.2 300.0,425.2 295.0,427.0 C290.0,428.8 284.2,430.5 280.0,432.0 C275.8,433.5 275.8,433.9 270.0,436.0 C264.2,438.1 253.3,441.9 245.0,444.5 C236.7,447.1 225.6,449.7 220.0,451.5 C214.4,453.3 212.8,454.6 211.3,455.2 L211.3,460.0 C212.8,459.3 214.4,457.8 220.0,456.0 C225.6,454.2 236.7,452.0 245.0,449.5 C253.3,447.0 264.2,443.0 270.0,441.0 C275.8,439.0 275.8,438.7 280.0,437.3 C284.2,435.9 290.0,434.2 295.0,432.5 C300.0,430.8 305.0,428.8 310.0,427.0 C315.0,425.2 320.0,423.6 325.0,421.8 C330.0,420.1 335.8,418.0 340.0,416.5 C344.2,415.0 346.7,414.3 350.0,413.0 C353.3,411.7 355.8,410.3 360.0,408.8 C364.2,407.3 370.8,405.3 375.0,403.8 C379.2,402.3 380.8,401.3 385.0,399.9 C389.2,398.5 395.8,396.7 400.0,395.3 C404.2,393.9 405.8,393.2 410.0,391.4 C414.2,389.6 420.8,386.5 425.0,384.6 C429.2,382.7 430.8,382.0 435.0,380.1 C439.2,378.3 445.8,375.4 450.0,373.5 C454.2,371.5 455.8,370.2 460.0,368.5 C464.2,366.8 471.7,364.6 475.0,363.2 C478.3,361.9 477.1,361.5 480.0,360.1 C482.9,358.7 488.3,356.6 492.5,354.9 C496.7,353.1 500.8,351.5 505.0,349.5 C509.2,347.5 513.3,344.9 517.5,342.9 C521.7,340.9 523.8,339.7 530.0,337.3 C536.2,334.9 546.7,331.3 555.0,328.5 C563.3,325.7 572.5,323.2 580.0,320.5 C587.5,317.8 593.5,315.1 600.0,312.5 C606.5,309.9 615.1,306.2 618.8,304.6 C622.5,303.0 621.5,303.3 622.0,303.0 Z"/></clipPath>
<path d="M622.0,301.0 C621.5,301.2 622.9,300.8 618.8,302.5 C614.7,304.2 604.0,308.7 597.5,311.3 C591.0,313.9 586.0,315.9 580.0,318.0 C574.0,320.1 567.5,322.0 561.3,323.8 C555.0,325.6 548.0,327.2 542.5,328.8 C537.0,330.4 532.2,331.9 528.0,333.3 C523.8,334.6 521.3,335.5 517.5,337.0 C513.7,338.6 509.2,340.6 505.0,342.4 C500.8,344.1 497.2,345.5 492.5,347.5 C487.8,349.5 482.4,351.9 477.0,354.4 C471.6,356.9 464.5,360.2 460.0,362.3 C455.5,364.4 454.2,364.9 450.0,366.8 C445.8,368.6 439.2,371.8 435.0,373.7 C430.8,375.5 429.2,376.1 425.0,377.9 C420.8,379.8 414.2,383.1 410.0,384.9 C405.8,386.6 404.2,387.0 400.0,388.5 C395.8,390.0 389.2,392.4 385.0,393.9 C380.8,395.4 379.2,395.9 375.0,397.5 C370.8,399.1 364.2,401.7 360.0,403.3 C355.8,404.9 353.3,406.0 350.0,407.3 C346.7,408.6 344.2,409.5 340.0,411.0 C335.8,412.5 330.0,414.8 325.0,416.5 C320.0,418.2 315.0,419.8 310.0,421.5 C305.0,423.2 300.0,425.2 295.0,427.0 C290.0,428.8 284.2,430.5 280.0,432.0 C275.8,433.5 275.8,433.9 270.0,436.0 C264.2,438.1 253.3,441.9 245.0,444.5 C236.7,447.1 225.6,449.7 220.0,451.5 C214.4,453.3 212.8,454.6 211.3,455.2 L211.3,460.0 C212.8,459.3 214.4,457.8 220.0,456.0 C225.6,454.2 236.7,452.0 245.0,449.5 C253.3,447.0 264.2,443.0 270.0,441.0 C275.8,439.0 275.8,438.7 280.0,437.3 C284.2,435.9 290.0,434.2 295.0,432.5 C300.0,430.8 305.0,428.8 310.0,427.0 C315.0,425.2 320.0,423.6 325.0,421.8 C330.0,420.1 335.8,418.0 340.0,416.5 C344.2,415.0 346.7,414.3 350.0,413.0 C353.3,411.7 355.8,410.3 360.0,408.8 C364.2,407.3 370.8,405.3 375.0,403.8 C379.2,402.3 380.8,401.3 385.0,399.9 C389.2,398.5 395.8,396.7 400.0,395.3 C404.2,393.9 405.8,393.2 410.0,391.4 C414.2,389.6 420.8,386.5 425.0,384.6 C429.2,382.7 430.8,382.0 435.0,380.1 C439.2,378.3 445.8,375.4 450.0,373.5 C454.2,371.5 455.8,370.2 460.0,368.5 C464.2,366.8 471.7,364.6 475.0,363.2 C478.3,361.9 477.1,361.5 480.0,360.1 C482.9,358.7 488.3,356.6 492.5,354.9 C496.7,353.1 500.8,351.5 505.0,349.5 C509.2,347.5 513.3,344.9 517.5,342.9 C521.7,340.9 523.8,339.7 530.0,337.3 C536.2,334.9 546.7,331.3 555.0,328.5 C563.3,325.7 572.5,323.2 580.0,320.5 C587.5,317.8 593.5,315.1 600.0,312.5 C606.5,309.9 615.1,306.2 618.8,304.6 C622.5,303.0 621.5,303.3 622.0,303.0 Z" fill="url(#gBandLong)"/>
<g clip-path="url(#clipBand)">
<path d="M618.8,305.4 C615.7,306.7 606.5,310.7 600.0,313.3 C593.5,315.9 587.5,318.6 580.0,321.3 C572.5,324.0 563.3,326.5 555.0,329.3 C546.7,332.1 536.2,335.7 530.0,338.1 C523.8,340.5 521.7,341.7 517.5,343.7 C513.3,345.7 509.2,348.3 505.0,350.3 C500.8,352.3 496.7,353.9 492.5,355.7 C488.3,357.4 482.9,359.5 480.0,360.9 C477.1,362.3 478.3,362.7 475.0,364.1 C471.7,365.4 464.2,367.6 460.0,369.3 C455.8,371.0 454.2,372.3 450.0,374.3 C445.8,376.2 439.2,379.1 435.0,380.9 C430.8,382.8 429.2,383.5 425.0,385.4 C420.8,387.3 414.2,390.4 410.0,392.2 C405.8,394.0 404.2,394.7 400.0,396.1 C395.8,397.5 389.2,399.3 385.0,400.7 C380.8,402.1 379.2,403.1 375.0,404.6 C370.8,406.1 364.2,408.1 360.0,409.6 C355.8,411.1 353.3,412.5 350.0,413.8 C346.7,415.1 344.2,415.8 340.0,417.3 C335.8,418.8 330.0,420.9 325.0,422.6 C320.0,424.4 315.0,426.0 310.0,427.8 C305.0,429.6 300.0,431.6 295.0,433.3 C290.0,435.0 284.2,436.7 280.0,438.1 C275.8,439.5 275.8,439.8 270.0,441.8 C264.2,443.8 253.3,447.8 245.0,450.3 C236.7,452.8 225.6,455.1 220.0,456.8 C214.4,458.6 212.8,460.1 211.3,460.8" fill="none" stroke="url(#gBandEdge)" stroke-width="4.5" filter="url(#blur1)"/>
</g>
<clipPath id="clipPadBand"><path d="M730.6,225.6 C731.2,226.8 734.1,230.1 734.4,232.5 C734.7,234.9 733.6,237.1 732.5,240.0 C731.4,242.9 730.0,246.4 727.5,250.0 C725.0,253.6 721.7,257.6 717.5,261.3 C713.3,265.1 707.1,269.4 702.5,272.5 C697.9,275.6 694.2,277.7 690.0,280.0 C685.8,282.3 681.7,284.3 677.5,286.3 C673.3,288.3 669.2,290.3 665.0,291.9 C660.8,293.4 656.7,294.2 652.5,295.6 C648.3,297.1 643.8,299.1 640.0,300.6 C636.2,302.1 633.5,303.3 630.0,304.8 C626.5,306.3 624.2,306.9 618.8,309.4 C613.4,311.9 601.0,318.2 597.5,320.0 L597.5,311.3 C601.0,309.8 611.7,305.6 618.8,302.5 C625.9,299.4 634.4,295.5 640.0,293.0 C645.6,290.5 648.3,289.2 652.5,287.5 C656.7,285.8 660.8,284.4 665.0,282.5 C669.2,280.6 673.3,278.5 677.5,276.3 C681.7,274.1 685.4,272.3 690.0,269.4 C694.6,266.5 700.8,262.0 705.0,258.8 C709.2,255.6 712.3,252.7 715.0,250.0 C717.7,247.3 719.2,245.4 721.3,242.5 C723.4,239.6 726.0,235.3 727.5,232.5 C729.0,229.7 730.1,226.8 730.6,225.6 Z"/></clipPath>
<path d="M730.6,225.6 C731.2,226.8 734.1,230.1 734.4,232.5 C734.7,234.9 733.6,237.1 732.5,240.0 C731.4,242.9 730.0,246.4 727.5,250.0 C725.0,253.6 721.7,257.6 717.5,261.3 C713.3,265.1 707.1,269.4 702.5,272.5 C697.9,275.6 694.2,277.7 690.0,280.0 C685.8,282.3 681.7,284.3 677.5,286.3 C673.3,288.3 669.2,290.3 665.0,291.9 C660.8,293.4 656.7,294.2 652.5,295.6 C648.3,297.1 643.8,299.1 640.0,300.6 C636.2,302.1 633.5,303.3 630.0,304.8 C626.5,306.3 624.2,306.9 618.8,309.4 C613.4,311.9 601.0,318.2 597.5,320.0 L597.5,311.3 C601.0,309.8 611.7,305.6 618.8,302.5 C625.9,299.4 634.4,295.5 640.0,293.0 C645.6,290.5 648.3,289.2 652.5,287.5 C656.7,285.8 660.8,284.4 665.0,282.5 C669.2,280.6 673.3,278.5 677.5,276.3 C681.7,274.1 685.4,272.3 690.0,269.4 C694.6,266.5 700.8,262.0 705.0,258.8 C709.2,255.6 712.3,252.7 715.0,250.0 C717.7,247.3 719.2,245.4 721.3,242.5 C723.4,239.6 726.0,235.3 727.5,232.5 C729.0,229.7 730.1,226.8 730.6,225.6 Z" fill="#b4b4b4"/>
<g clip-path="url(#clipPadBand)">
<path d="M730.6,225.6 C730.1,226.8 729.0,229.7 727.5,232.5 C726.0,235.3 723.4,239.6 721.3,242.5 C719.2,245.4 717.7,247.3 715.0,250.0 C712.3,252.7 709.2,255.6 705.0,258.8 C700.8,262.0 694.6,266.5 690.0,269.4 C685.4,272.3 681.7,274.1 677.5,276.3 C673.3,278.5 669.2,280.6 665.0,282.5 C660.8,284.4 656.7,285.8 652.5,287.5 C648.3,289.2 645.6,290.5 640.0,293.0 C634.4,295.5 625.9,299.4 618.8,302.5 C611.7,305.6 601.0,309.8 597.5,311.3" fill="none" stroke="#e6e6e6" stroke-width="4" filter="url(#blur1)"/>
<path d="M734.4,232.5 C734.1,233.8 733.6,237.1 732.5,240.0 C731.4,242.9 730.0,246.4 727.5,250.0 C725.0,253.6 721.7,257.6 717.5,261.3 C713.3,265.1 707.1,269.4 702.5,272.5 C697.9,275.6 694.2,277.7 690.0,280.0 C685.8,282.3 681.7,284.3 677.5,286.3 C673.3,288.3 669.2,290.3 665.0,291.9 C660.8,293.4 656.7,294.2 652.5,295.6 C648.3,297.1 643.8,299.1 640.0,300.6 C636.2,302.1 633.5,303.3 630.0,304.8 C626.5,306.3 624.2,306.9 618.8,309.4 C613.4,311.9 601.0,318.2 597.5,320.0" fill="none" stroke="#6c6c6c" stroke-width="3.4" filter="url(#blur1)"/>
</g>
<path d="M594,314.2 L619,303.6 L600,314.4 L594,317.6 Z" fill="#1a1a1a" filter="url(#blur05)"/>
<path d="M211.3,455.2 L211.3,461.0 C210.7,460.9 209.4,461.1 207.5,460.3 C205.6,459.6 202.1,457.4 200.0,456.5 C197.9,455.6 196.7,455.3 195.0,455.0 C193.3,454.7 190.8,454.6 190.0,454.5 L191.3,444.0 Z" fill="#a6a6a6"/>
<path id="upperFace" d="M191.3,436.3 C192.3,434.8 195.9,430.2 197.5,427.5 C199.1,424.8 198.9,422.1 200.6,420.0 C202.3,417.9 204.3,417.1 207.5,415.0 C210.7,412.9 215.8,410.0 220.0,407.5 C224.2,405.0 228.3,402.5 232.5,400.0 C236.7,397.5 238.8,395.7 245.0,392.5 C251.2,389.3 261.7,384.6 270.0,380.6 C278.3,376.7 285.8,373.0 295.0,368.8 C304.2,364.6 315.8,359.3 325.0,355.3 C334.2,351.3 341.7,348.2 350.0,345.0 C358.3,341.8 366.7,339.0 375.0,336.3 C383.3,333.6 391.7,331.5 400.0,329.0 C408.3,326.5 416.7,324.1 425.0,321.3 C433.3,318.6 441.7,315.3 450.0,312.5 C458.3,309.7 468.3,306.6 475.0,304.4 C481.7,302.2 485.0,301.3 490.0,299.5 C495.0,297.7 501.0,295.0 505.0,293.8 C509.0,292.6 512.3,292.6 513.8,292.3 C515.0,292.1 518.6,292.0 521.3,291.2 C524.0,290.4 526.5,288.9 530.0,287.5 C533.5,286.1 538.3,284.2 542.5,282.5 C546.7,280.8 550.4,279.2 555.0,277.5 C559.6,275.8 565.0,274.2 570.0,272.0 C575.0,269.8 580.0,266.9 585.0,264.4 C590.0,261.9 595.8,259.0 600.0,257.0 C604.2,255.0 605.0,255.0 610.0,252.5 C615.0,250.0 625.0,244.5 630.0,242.0 C635.0,239.5 636.2,239.4 640.0,237.5 C643.8,235.6 648.3,232.6 652.5,230.6 C656.7,228.6 660.8,226.9 665.0,225.6 C669.2,224.3 673.3,223.6 677.5,223.0 C681.7,222.4 685.8,222.2 690.0,221.9 C694.2,221.6 698.3,221.4 702.5,221.3 C706.7,221.2 711.2,221.2 715.0,221.5 C718.8,221.8 722.4,222.3 725.0,223.0 C727.6,223.7 729.7,225.2 730.6,225.6 C730.1,226.8 729.0,229.7 727.5,232.5 C726.0,235.3 723.4,239.6 721.3,242.5 C719.2,245.4 717.7,247.3 715.0,250.0 C712.3,252.7 709.2,255.6 705.0,258.8 C700.8,262.0 694.6,266.5 690.0,269.4 C685.4,272.3 681.7,274.1 677.5,276.3 C673.3,278.5 669.2,280.6 665.0,282.5 C660.8,284.4 656.7,285.8 652.5,287.5 C648.3,289.2 645.6,290.5 640.0,293.0 C634.4,295.5 625.9,299.4 618.8,302.5 C611.7,305.6 604.0,308.7 597.5,311.3 C591.0,313.9 586.0,315.9 580.0,318.0 C574.0,320.1 567.5,322.0 561.3,323.8 C555.0,325.6 548.0,327.4 542.5,328.8 C537.0,330.2 530.4,331.5 528.0,332.0 C526.2,333.9 521.3,335.5 517.5,337.0 C513.7,338.6 509.2,340.6 505.0,342.4 C500.8,344.1 497.2,345.5 492.5,347.5 C487.8,349.5 482.4,351.9 477.0,354.4 C471.6,356.9 464.5,360.2 460.0,362.3 C455.5,364.4 454.2,364.9 450.0,366.8 C445.8,368.6 439.2,371.8 435.0,373.7 C430.8,375.5 429.2,376.1 425.0,377.9 C420.8,379.8 414.2,383.1 410.0,384.9 C405.8,386.6 404.2,387.0 400.0,388.5 C395.8,390.0 389.2,392.4 385.0,393.9 C380.8,395.4 379.2,395.9 375.0,397.5 C370.8,399.1 364.2,401.7 360.0,403.3 C355.8,404.9 353.3,406.0 350.0,407.3 C346.7,408.6 344.2,409.5 340.0,411.0 C335.8,412.5 330.0,414.8 325.0,416.5 C320.0,418.2 315.0,419.8 310.0,421.5 C305.0,423.2 300.0,425.2 295.0,427.0 C290.0,428.8 284.2,430.5 280.0,432.0 C275.8,433.5 275.8,433.9 270.0,436.0 C264.2,438.1 253.3,441.9 245.0,444.5 C236.7,447.1 225.6,449.7 220.0,451.5 C214.4,453.3 212.8,454.6 211.3,455.2 C210.2,454.7 207.2,453.3 205.0,452.0 C202.8,450.7 200.3,448.4 198.0,447.5 C195.7,446.6 192.4,446.7 191.3,446.5 Z" fill="#ffffff"/>
<path d="M191.8,436.6 L176,446 L158,454.6 L150,459.5 L176,451.5 L192,446.8 Z" fill="#ffffff" filter="url(#blur05)"/>
<path d="M176,454.3 C183,451 188,449.2 192,448.6 C197,448 201.5,450.5 205,453.8 C207.5,456.2 209.5,458.3 211.5,459.3" fill="none" stroke="#7a7a7a" stroke-width="1.8" filter="url(#blur05)"/>
<path d="M191.3,436.3 C192.3,434.8 195.9,430.2 197.5,427.5 C199.1,424.8 198.9,422.1 200.6,420.0 C202.3,417.9 204.3,417.1 207.5,415.0 C210.7,412.9 215.8,410.0 220.0,407.5 C224.2,405.0 228.3,402.5 232.5,400.0 C236.7,397.5 238.8,395.7 245.0,392.5 C251.2,389.3 261.7,384.6 270.0,380.6 C278.3,376.7 285.8,373.0 295.0,368.8 C304.2,364.6 315.8,359.3 325.0,355.3 C334.2,351.3 341.7,348.2 350.0,345.0 C358.3,341.8 366.7,339.0 375.0,336.3 C383.3,333.6 391.7,331.5 400.0,329.0 C408.3,326.5 416.7,324.1 425.0,321.3 C433.3,318.6 441.7,315.3 450.0,312.5 C458.3,309.7 468.3,306.6 475.0,304.4 C481.7,302.2 485.0,301.3 490.0,299.5 C495.0,297.7 501.0,295.0 505.0,293.8 C509.0,292.6 512.3,292.6 513.8,292.3 C515.0,292.1 518.6,292.0 521.3,291.2 C524.0,290.4 526.5,288.9 530.0,287.5 C533.5,286.1 538.3,284.2 542.5,282.5 C546.7,280.8 550.4,279.2 555.0,277.5 C559.6,275.8 565.0,274.2 570.0,272.0 C575.0,269.8 580.0,266.9 585.0,264.4 C590.0,261.9 595.8,259.0 600.0,257.0 C604.2,255.0 605.0,255.0 610.0,252.5 C615.0,250.0 625.0,244.5 630.0,242.0 C635.0,239.5 636.2,239.4 640.0,237.5 C643.8,235.6 648.3,232.6 652.5,230.6 C656.7,228.6 660.8,226.9 665.0,225.6 C669.2,224.3 673.3,223.6 677.5,223.0 C681.7,222.4 685.8,222.2 690.0,221.9 C694.2,221.6 698.3,221.4 702.5,221.3 C706.7,221.2 711.2,221.2 715.0,221.5 C718.8,221.8 722.4,222.3 725.0,223.0 C727.6,223.7 729.7,225.2 730.6,225.6" fill="none" stroke="#9e9e9e" stroke-width="1.4"/>
<path d="M618.8,302.5 C615.2,304.0 604.0,308.7 597.5,311.3 C591.0,313.9 586.0,315.9 580.0,318.0 C574.0,320.1 567.5,322.0 561.3,323.8 C555.0,325.6 548.0,327.2 542.5,328.8 C537.0,330.4 532.2,331.9 528.0,333.3 C523.8,334.6 521.3,335.5 517.5,337.0 C513.7,338.6 509.2,340.6 505.0,342.4 C500.8,344.1 497.2,345.5 492.5,347.5 C487.8,349.5 482.4,351.9 477.0,354.4 C471.6,356.9 464.5,360.2 460.0,362.3 C455.5,364.4 454.2,364.9 450.0,366.8 C445.8,368.6 439.2,371.8 435.0,373.7 C430.8,375.5 429.2,376.1 425.0,377.9 C420.8,379.8 414.2,383.1 410.0,384.9 C405.8,386.6 404.2,387.0 400.0,388.5 C395.8,390.0 389.2,392.4 385.0,393.9 C380.8,395.4 379.2,395.9 375.0,397.5 C370.8,399.1 364.2,401.7 360.0,403.3 C355.8,404.9 353.3,406.0 350.0,407.3 C346.7,408.6 344.2,409.5 340.0,411.0 C335.8,412.5 330.0,414.8 325.0,416.5 C320.0,418.2 315.0,419.8 310.0,421.5 C305.0,423.2 300.0,425.2 295.0,427.0 C290.0,428.8 284.2,430.5 280.0,432.0 C275.8,433.5 275.8,433.9 270.0,436.0 C264.2,438.1 253.3,441.9 245.0,444.5 C236.7,447.1 224.2,450.3 220.0,451.5" fill="none" stroke="#8a8a8a" stroke-width="1.1" filter="url(#blur05)"/>
<!-- shoulder shading -->
<path d="M513.8,292.3 C517,305 522,320 528,332 L546,327.8 C539,316 534,300 531.5,286.8 Z" fill="url(#gShoulder)"/>
<path d="M513.8,292.3 C516.8,305 522,320 528,332" fill="none" stroke="#a9a9a9" stroke-width="1.2"/>
<!-- HOLE 1 -->
<clipPath id="h1o"><ellipse cx="269.7" cy="411" rx="17.3" ry="17.5"/></clipPath>
<clipPath id="h1i"><ellipse cx="272.3" cy="413" rx="14.2" ry="15.1"/></clipPath>
<g clip-path="url(#h1o)">
  <ellipse cx="269.7" cy="411" rx="17.3" ry="17.5" fill="#7b7b7b"/>
  <ellipse cx="271" cy="412" rx="15.8" ry="16.3" fill="none" stroke="#b4b4b4" stroke-width="0.9"/>
  <ellipse cx="272.3" cy="413" rx="14.2" ry="15.1" fill="#fafafa"/>
  <g clip-path="url(#h1i)">
    <path d="M255,424.8 L288,406.8 L292,432 L256,434 Z" fill="#d6d6d6"/>
  </g>
  <ellipse cx="272.3" cy="413" rx="14.2" ry="15.1" fill="none" stroke="#9a9a9a" stroke-width="0.8"/>
</g>
<ellipse cx="269.7" cy="411" rx="17.6" ry="17.8" fill="none" stroke="#cfcfcf" stroke-width="1.3"/>
<!-- HOLE 2 -->
<clipPath id="h2o"><ellipse cx="334.7" cy="382.8" rx="22.2" ry="20.6"/></clipPath>
<clipPath id="h2i"><ellipse cx="337.4" cy="386.4" rx="18.3" ry="16.4"/></clipPath>
<g clip-path="url(#h2o)">
  <ellipse cx="334.7" cy="382.8" rx="22.2" ry="20.6" fill="#6c6c6c"/>
  <ellipse cx="336" cy="384.4" rx="20.2" ry="18.6" fill="none" stroke="#adadad" stroke-width="0.9"/>
  <ellipse cx="337.4" cy="386.4" rx="18.3" ry="16.4" fill="#f7f7f7"/>
  <g clip-path="url(#h2i)">
    <circle cx="351.5" cy="402.8" r="19" fill="#565656" stroke="#c9c9c9" stroke-width="3.2"/>
    <circle cx="353" cy="405" r="17" fill="none" stroke="#8a8a8a" stroke-width="1.2"/>
  </g>
  <ellipse cx="337.4" cy="386.4" rx="18.3" ry="16.4" fill="none" stroke="#9a9a9a" stroke-width="0.7"/>
</g>
<ellipse cx="334.7" cy="382.8" rx="22.5" ry="20.9" fill="none" stroke="#d2d2d2" stroke-width="1.3"/>
<!-- HOLE 3 -->
<clipPath id="h3o"><ellipse cx="401.6" cy="357.5" rx="19.2" ry="17.7"/></clipPath>
<clipPath id="h3i"><ellipse cx="403.3" cy="360.5" rx="16.2" ry="14.3"/></clipPath>
<g clip-path="url(#h3o)">
  <ellipse cx="401.6" cy="357.5" rx="19.2" ry="17.7" fill="#6e6e6e"/>
  <ellipse cx="402.5" cy="359" rx="17.6" ry="16" fill="none" stroke="#adadad" stroke-width="0.9"/>
  <ellipse cx="403.3" cy="360.5" rx="16.2" ry="14.3" fill="#f3f3f3"/>
  <g clip-path="url(#h3i)">
    <circle cx="415" cy="376.8" r="17" fill="#545454" stroke="#c6c6c6" stroke-width="3"/>
    <circle cx="416.5" cy="379" r="15" fill="none" stroke="#868686" stroke-width="1.2"/>
  </g>
  <ellipse cx="403.3" cy="360.5" rx="16.2" ry="14.3" fill="none" stroke="#9a9a9a" stroke-width="0.7"/>
</g>
<ellipse cx="401.6" cy="357.5" rx="19.5" ry="18" fill="none" stroke="#d2d2d2" stroke-width="1.3"/>

</g>

</g>
<g filter="url(#soft)">
<!-- ===== INSET CIRCLE ===== -->
<g id="inset">
<clipPath id="clipInset"><circle cx="668.3" cy="533" r="104.6"/></clipPath>
<circle cx="668.3" cy="533" r="105" fill="url(#gInsetBg)"/>
<g clip-path="url(#clipInset)">
<path d="M679.5,470.8 L679.5,470.8 C681.6,468.7 687.8,462.3 692.0,458.3 C696.2,454.3 701.2,449.8 704.5,447.0 C707.8,444.2 709.1,443.9 712.0,441.4 C714.9,438.9 720.3,433.6 722.0,432.0 L722.0,432.0 C724.3,433.3 733.7,438.7 736.0,440.0 L736.0,440.0 C734.9,441.7 732.7,446.8 729.5,450.0 C726.3,453.2 721.2,456.0 717.0,459.5 C712.8,463.0 708.5,467.7 704.5,470.8 C700.5,473.9 695.2,477.1 693.3,478.3 L693.3,478.3 C691.0,477.1 681.8,472.1 679.5,470.8 Z" fill="url(#gInRod1)"/>
<path d="M679.5,470.8 C677.8,470.7 673.2,469.8 669.5,470.1 C665.8,470.4 661.2,471.1 657.0,472.6 C652.8,474.1 648.5,476.3 644.5,478.9 C640.5,481.5 636.2,485.1 633.3,488.3 C630.4,491.5 628.2,495.0 627.0,498.3 C625.8,501.6 625.6,505.2 626.2,508.3 C626.8,511.4 628.6,514.6 630.8,517.0 C633.0,519.4 636.0,521.1 639.5,522.6 C643.0,524.1 648.0,525.2 652.0,525.8 C656.0,526.4 660.2,526.8 663.3,526.4 C666.4,526.0 668.1,525.5 670.8,523.3 C673.5,521.1 676.8,516.8 679.5,513.3 C682.2,509.7 685.0,505.6 687.0,502.0 C689.0,498.4 690.7,495.0 691.4,492.0 C692.1,489.0 690.9,486.3 691.2,484.0 C691.5,481.7 692.9,479.2 693.3,478.3 Z" fill="#8f9195"/>
<clipPath id="clipH1"><path d="M679.5,470.8 C677.8,470.7 673.2,469.8 669.5,470.1 C665.8,470.4 661.2,471.1 657.0,472.6 C652.8,474.1 648.5,476.3 644.5,478.9 C640.5,481.5 636.2,485.1 633.3,488.3 C630.4,491.5 628.2,495.0 627.0,498.3 C625.8,501.6 625.6,505.2 626.2,508.3 C626.8,511.4 628.6,514.6 630.8,517.0 C633.0,519.4 636.0,521.1 639.5,522.6 C643.0,524.1 648.0,525.2 652.0,525.8 C656.0,526.4 660.2,526.8 663.3,526.4 C666.4,526.0 668.1,525.5 670.8,523.3 C673.5,521.1 676.8,516.8 679.5,513.3 C682.2,509.7 685.0,505.6 687.0,502.0 C689.0,498.4 690.7,495.0 691.4,492.0 C692.1,489.0 690.9,486.3 691.2,484.0 C691.5,481.7 692.9,479.2 693.3,478.3 Z"/></clipPath>
<g clip-path="url(#clipH1)">
<path d="M679.5,470.8 C677.8,470.7 673.2,469.8 669.5,470.1 C665.8,470.4 661.2,471.1 657.0,472.6 C652.8,474.1 648.5,476.3 644.5,478.9 C640.5,481.5 636.2,485.1 633.3,488.3 C630.4,491.5 628.2,495.0 627.0,498.3 C625.8,501.6 625.6,505.2 626.2,508.3 C626.8,511.4 628.6,514.6 630.8,517.0 C633.0,519.4 636.0,521.1 639.5,522.6 C643.0,524.1 648.0,525.2 652.0,525.8 C656.0,526.4 660.2,526.8 663.3,526.4 C666.4,526.0 668.1,525.5 670.8,523.3 C673.5,521.1 676.8,516.8 679.5,513.3 C682.2,509.7 685.0,505.6 687.0,502.0 C689.0,498.4 690.7,495.0 691.4,492.0 C692.1,489.0 690.9,486.3 691.2,484.0 C691.5,481.7 692.9,479.2 693.3,478.3 Z" fill="#dfe0e2" transform="translate(-2.2,-4.6)" filter="url(#blur05)"/>
<path d="M679.5,470.8 C677.8,470.7 673.2,469.8 669.5,470.1 C665.8,470.4 661.2,471.1 657.0,472.6 C652.8,474.1 648.5,476.3 644.5,478.9 C640.5,481.5 636.2,485.1 633.3,488.3 C630.4,491.5 628.2,495.0 627.0,498.3 C625.8,501.6 625.6,505.2 626.2,508.3 C626.8,511.4 628.6,514.6 630.8,517.0 C633.0,519.4 636.0,521.1 639.5,522.6 C643.0,524.1 648.0,525.2 652.0,525.8 C656.0,526.4 660.2,526.8 663.3,526.4 C666.4,526.0 668.1,525.5 670.8,523.3 C673.5,521.1 676.8,516.8 679.5,513.3 C682.2,509.7 685.0,505.6 687.0,502.0 C689.0,498.4 690.7,495.0 691.4,492.0 C692.1,489.0 690.9,486.3 691.2,484.0 C691.5,481.7 692.9,479.2 693.3,478.3 Z" fill="url(#gInHead1)" transform="translate(-2.8,-5.8)" filter="url(#blur05)"/>
<ellipse cx="648" cy="497" rx="13" ry="7" transform="rotate(-38 648 497)" fill="#f2f2f3" opacity="0.75" filter="url(#blur2)"/>
</g>
<path d="M658.3,552.6 L658.3,552.6 C659.8,551.5 663.9,548.6 667.0,545.8 C670.1,543.0 673.7,538.9 677.0,535.8 C680.3,532.7 683.5,530.1 687.0,527.0 C690.5,523.9 694.3,520.4 698.3,517.0 C702.3,513.6 707.3,509.4 710.8,506.5 C714.3,503.6 716.4,501.6 719.5,499.5 C722.6,497.4 725.8,495.4 729.5,493.8 C733.2,492.2 737.0,491.3 742.0,490.1 C747.0,488.9 753.2,487.6 759.5,486.4 C765.8,485.2 776.6,483.6 780.0,483.0 L780.0,483.0 C780.3,485.8 781.7,497.2 782.0,500.0 L782.0,500.0 C779.5,500.2 771.6,501.0 767.0,501.4 C762.4,501.8 758.7,501.9 754.5,502.6 C750.3,503.3 745.8,504.4 742.0,505.8 C738.2,507.2 735.3,508.7 732.0,510.8 C728.7,512.9 725.5,515.4 722.0,518.3 C718.5,521.2 714.5,525.0 710.8,528.0 C707.0,531.0 703.0,533.6 699.5,536.5 C696.0,539.4 692.8,542.5 689.5,545.5 C686.2,548.5 682.9,551.5 679.5,554.5 C676.1,557.5 670.7,561.8 668.9,563.3 L668.9,563.3 C667.1,561.5 660.1,554.4 658.3,552.6 Z" fill="url(#gInRod2)"/>
<path d="M782.0,500.0 C779.5,500.2 771.6,501.0 767.0,501.4 C762.4,501.8 758.7,501.9 754.5,502.6 C750.3,503.3 745.8,504.4 742.0,505.8 C738.2,507.2 735.3,508.7 732.0,510.8 C728.7,512.9 725.5,515.4 722.0,518.3 C718.5,521.2 714.5,525.0 710.8,528.0 C707.0,531.0 703.0,533.6 699.5,536.5 C696.0,539.4 692.8,542.5 689.5,545.5 C686.2,548.5 682.9,551.5 679.5,554.5 C676.1,557.5 670.7,561.8 668.9,563.3" fill="none" stroke="#a9abaf" stroke-width="1.2" filter="url(#blur05)"/>
<path d="M658.3,552.6 C659.8,551.5 663.9,548.6 667.0,545.8 C670.1,543.0 673.7,538.9 677.0,535.8 C680.3,532.7 683.5,530.1 687.0,527.0 C690.5,523.9 694.3,520.4 698.3,517.0 C702.3,513.6 707.3,509.4 710.8,506.5 C714.3,503.6 716.4,501.6 719.5,499.5 C722.6,497.4 725.8,495.4 729.5,493.8 C733.2,492.2 737.0,491.3 742.0,490.1 C747.0,488.9 753.2,487.6 759.5,486.4 C765.8,485.2 776.6,483.6 780.0,483.0" fill="none" stroke="#c3c4c7" stroke-width="0.8"/>
<path d="M658.3,552.6 C656.8,552.6 653.0,552.1 649.5,552.6 C646.0,553.1 641.2,554.0 637.0,555.8 C632.8,557.6 628.2,560.2 624.5,563.3 C620.8,566.4 616.8,571.0 614.5,574.5 C612.2,578.0 611.1,581.2 610.6,584.5 C610.1,587.8 610.5,591.6 611.8,594.5 C613.1,597.4 615.5,599.9 618.3,602.0 C621.0,604.1 625.0,606.0 628.3,607.0 C631.6,608.0 635.2,608.7 638.3,608.3 C641.4,607.9 643.9,606.8 647.0,604.5 C650.1,602.2 653.7,598.2 657.0,594.5 C660.3,590.8 664.5,585.5 667.0,582.0 C669.5,578.5 671.2,575.8 672.0,573.3 C672.8,570.8 672.1,568.7 671.6,567.0 C671.1,565.3 669.4,563.9 668.9,563.3 Z" fill="#9ea1a5"/>
<clipPath id="clipH2"><path d="M658.3,552.6 C656.8,552.6 653.0,552.1 649.5,552.6 C646.0,553.1 641.2,554.0 637.0,555.8 C632.8,557.6 628.2,560.2 624.5,563.3 C620.8,566.4 616.8,571.0 614.5,574.5 C612.2,578.0 611.1,581.2 610.6,584.5 C610.1,587.8 610.5,591.6 611.8,594.5 C613.1,597.4 615.5,599.9 618.3,602.0 C621.0,604.1 625.0,606.0 628.3,607.0 C631.6,608.0 635.2,608.7 638.3,608.3 C641.4,607.9 643.9,606.8 647.0,604.5 C650.1,602.2 653.7,598.2 657.0,594.5 C660.3,590.8 664.5,585.5 667.0,582.0 C669.5,578.5 671.2,575.8 672.0,573.3 C672.8,570.8 672.1,568.7 671.6,567.0 C671.1,565.3 669.4,563.9 668.9,563.3 Z"/></clipPath>
<g clip-path="url(#clipH2)">
<path d="M658.3,552.6 C656.8,552.6 653.0,552.1 649.5,552.6 C646.0,553.1 641.2,554.0 637.0,555.8 C632.8,557.6 628.2,560.2 624.5,563.3 C620.8,566.4 616.8,571.0 614.5,574.5 C612.2,578.0 611.1,581.2 610.6,584.5 C610.1,587.8 610.5,591.6 611.8,594.5 C613.1,597.4 615.5,599.9 618.3,602.0 C621.0,604.1 625.0,606.0 628.3,607.0 C631.6,608.0 635.2,608.7 638.3,608.3 C641.4,607.9 643.9,606.8 647.0,604.5 C650.1,602.2 653.7,598.2 657.0,594.5 C660.3,590.8 664.5,585.5 667.0,582.0 C669.5,578.5 671.2,575.8 672.0,573.3 C672.8,570.8 672.1,568.7 671.6,567.0 C671.1,565.3 669.4,563.9 668.9,563.3 Z" fill="url(#gInHead2)" transform="translate(0.6,-3.4)"/>
</g>
</g>
<circle cx="668.3" cy="533" r="105" fill="none" stroke="#1368c3" stroke-width="1.9"/>
</g>

</g>
</svg>
</body>
</html>
